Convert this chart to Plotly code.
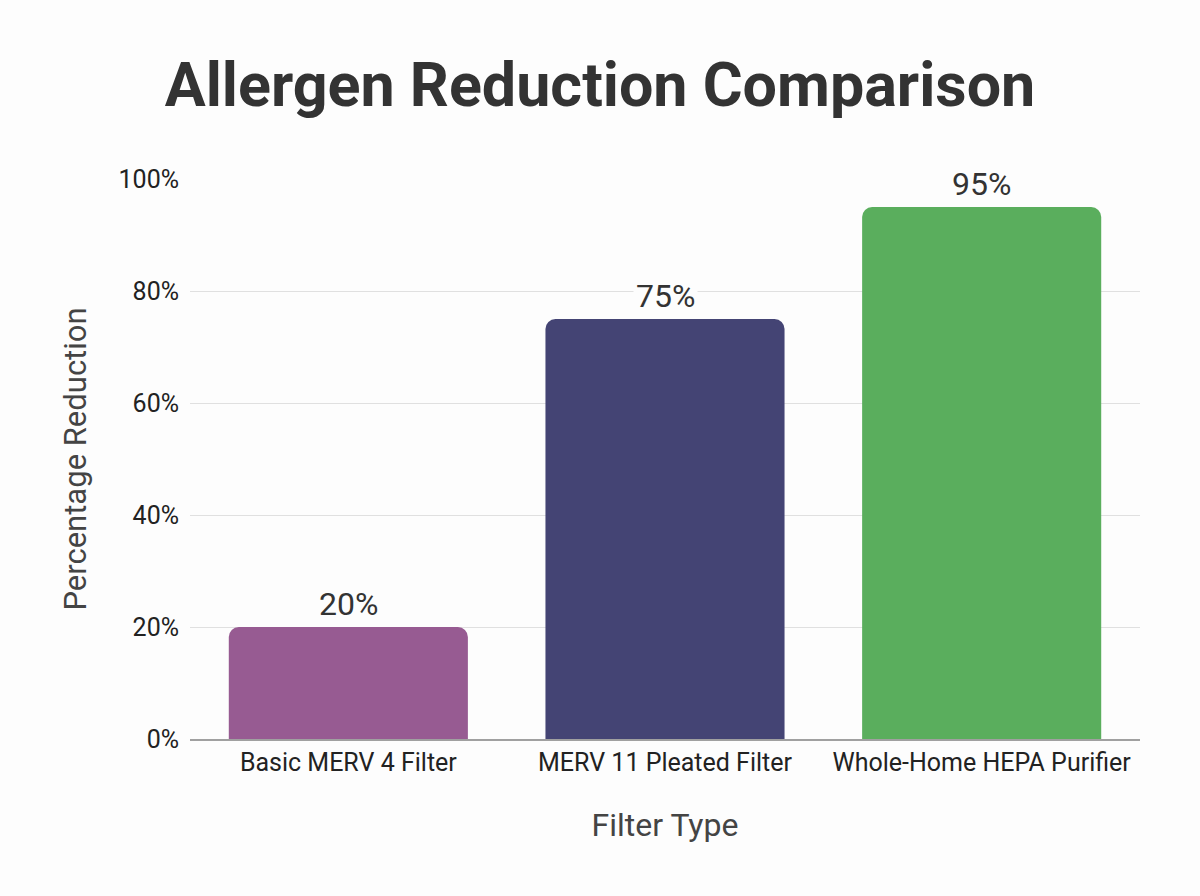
import plotly.graph_objects as go

categories = ["Basic MERV 4 Filter", "MERV 11 Pleated Filter", "Whole-Home HEPA Purifier"]
values = [20, 75, 95]
colors = ["#975b92", "#444474", "#5aae5d"]
tick_vals = [0, 20, 40, 60, 80, 100]
tick_text = ["0%", "20%", "40%", "60%", "80%", "100%"]

BG = "#fdfdfd"

fig = go.Figure(go.Bar(
    x=categories, y=values,
    marker=dict(color=colors, cornerradius=10, line=dict(width=0)),
    width=0.755,
    hoverinfo="skip",
))

for c, v in zip(categories, values):
    fig.add_annotation(x=c, y=v, text=f"{v}%", showarrow=False,
                       yanchor="bottom", yshift=1, bgcolor=BG,
                       borderpad=2,
                       font=dict(family="Roboto", size=32, color="#333333"))

fig.update_layout(
    width=1200, height=896,
    paper_bgcolor=BG, plot_bgcolor=BG,
    margin=dict(l=190, r=60, t=179, b=157),
    title=dict(text="<b>Allergen Reduction Comparison</b>", x=0.5, xanchor="center",
               y=0.905, yanchor="middle",
               font=dict(family="Roboto", size=61, color="#333333")),
    showlegend=False,
    xaxis=dict(
        title=dict(text="Filter Type", font=dict(family="Roboto", size=32, color="#444444"), standoff=38),
        tickfont=dict(family="Roboto", size=25, color="#222222"),
        showline=True, linecolor="#a0a0a0", linewidth=1.5,
        showgrid=False, ticks="", range=[-0.5, 2.5],
    ),
    yaxis=dict(
        title=dict(text="Percentage Reduction", font=dict(family="Roboto", size=31, color="#444444"), standoff=22),
        tickfont=dict(family="Roboto", size=25, color="#222222"),
        tickvals=tick_vals, ticktext=tick_text, range=[0, 100],
        showgrid=True, gridcolor="#e0e0e0", gridwidth=1,
        zeroline=False, ticks="", ticklabelstandoff=10,
    ),
)

fig.write_html("out.html")
